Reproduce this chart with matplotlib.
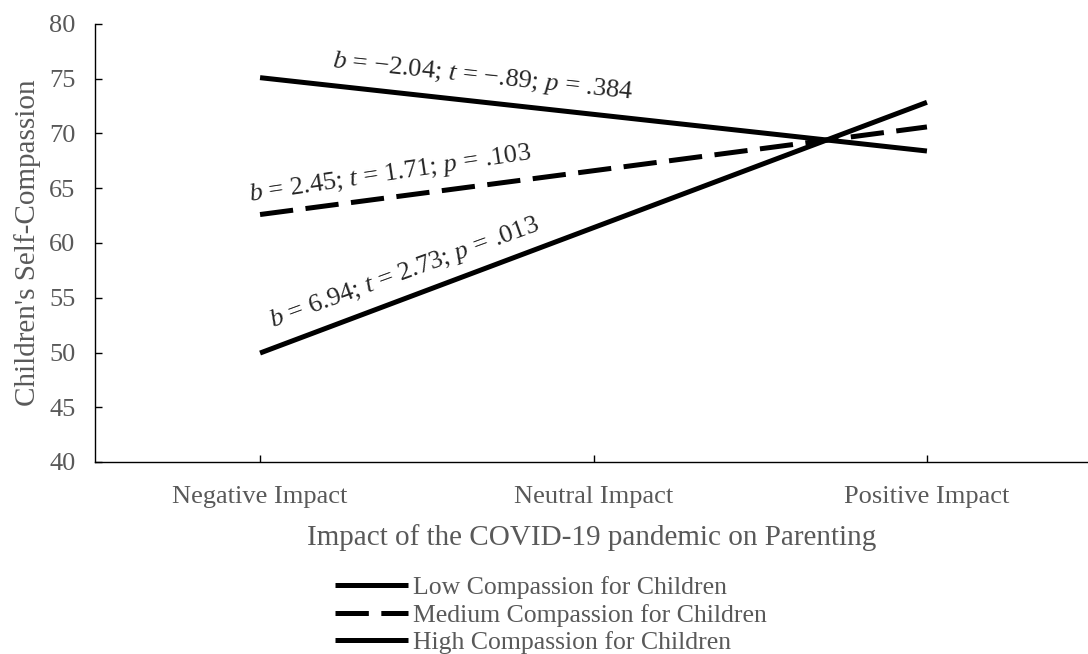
import matplotlib
matplotlib.use("Agg")
import matplotlib.pyplot as plt

plt.rcParams['font.family'] = ['Liberation Serif', 'DejaVu Serif']
plt.rcParams['lines.scale_dashes'] = False
plt.rcParams['mathtext.fontset'] = 'custom'
plt.rcParams['mathtext.it'] = 'Liberation Serif:italic'
plt.rcParams['mathtext.rm'] = 'Liberation Serif'

categories = ["Negative Impact", "Neutral Impact", "Positive Impact"]
line_cats = ["Negative Impact", "Positive Impact"]
series_names = ["Low Compassion for Children", "Medium Compassion for Children", "High Compassion for Children"]
low_vals = [75.1, 68.4]
med_vals = [62.6, 70.6]
high_vals = [49.95, 72.85]
y_ticks = [40, 45, 50, 55, 60, 65, 70, 75, 80]
annotations = ["$b$ = \u22122.04; $t$ = \u2212.89; $p$ = .384",
               "$b$ = 2.45; $t$ = 1.71; $p$ = .103",
               "$b$ = 6.94; $t$ = 2.73; $p$ = .013"]

W, H = 1088, 654
fig = plt.figure(figsize=(W/100, H/100), dpi=100)
ax = fig.add_axes([95/W, (H-462)/H, (W-95)/W, (462-24)/H])

xs = list(range(len(categories)))
lx = [categories.index(c) for c in line_cats]
dash = (0, (24, 9))
l1, = ax.plot(lx, low_vals, color='black', lw=3.6, solid_capstyle='butt')
l2, = ax.plot(lx, med_vals, color='black', lw=3.6, linestyle=dash, dash_capstyle='butt')
l3, = ax.plot(lx, high_vals, color='black', lw=3.6, solid_capstyle='butt')

ax.set_xlim(-0.495, 2.483)
ax.set_ylim(40, 80)
ax.set_yticks(y_ticks)
ax.set_xticks(xs)
ax.set_xticklabels(categories)
ax.spines['top'].set_visible(False)
ax.spines['right'].set_visible(False)
for s in ['left', 'bottom']:
    ax.spines[s].set_color('black')
    ax.spines[s].set_linewidth(1.0)
ax.tick_params(axis='both', direction='in', length=5, width=1, colors='black',
               labelcolor='#595959', labelsize=19)
ax.tick_params(axis='x', pad=17)
ax.tick_params(axis='y', pad=14)

ax.set_ylabel("Children's Self-Compassion", fontsize=21, color='#595959', labelpad=6)
ax.set_xlabel("Impact of the COVID-19 pandemic on Parenting", fontsize=21, color='#595959', labelpad=11.5)

tcol = '#262626'
fig.text(483/W, 1-77/H, annotations[0], fontsize=19, color=tcol, rotation=-6.0,
         ha='center', va='center', rotation_mode='anchor')
fig.text(390/W, 1-174/H, annotations[1], fontsize=19, color=tcol, rotation=8.5,
         ha='center', va='center', rotation_mode='anchor')
fig.text(405/W, 1-273/H, annotations[2], fontsize=19, color=tcol, rotation=20.0,
         ha='center', va='center', rotation_mode='anchor')

leg = fig.legend([l1, l2, l3], series_names, loc='upper left',
                 bbox_to_anchor=(335/W, 1-576/H), frameon=False, fontsize=18.5,
                 handlelength=2.84, handletextpad=0.2, labelspacing=0.18,
                 borderpad=0, borderaxespad=0)
for t in leg.get_texts():
    t.set_color('#595959')

fig.savefig("out.png", dpi=100)
